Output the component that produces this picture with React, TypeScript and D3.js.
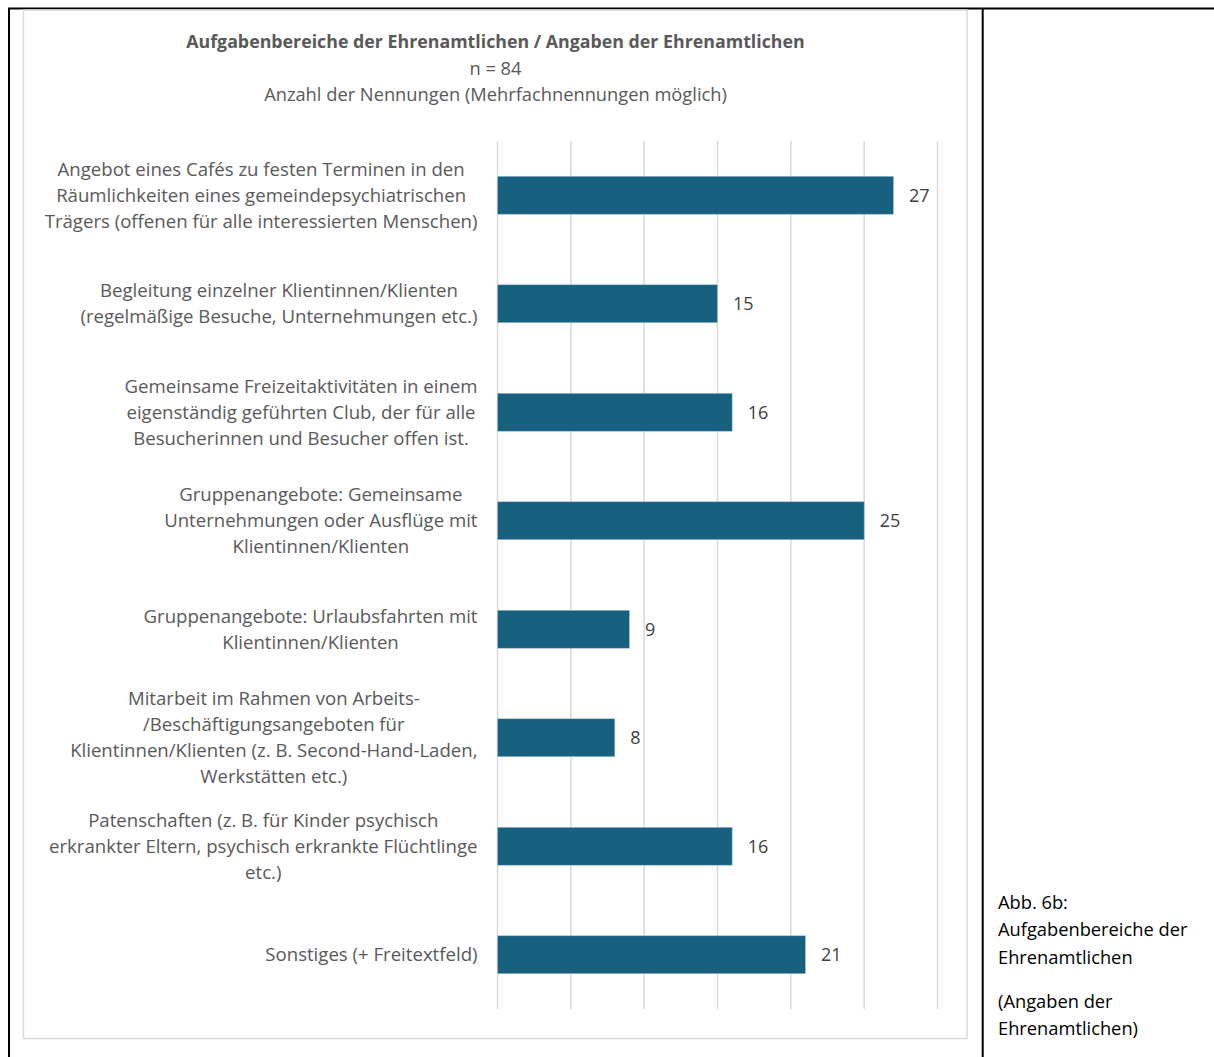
import React, { useEffect, useRef } from "react";
import * as d3 from "d3";

const categories: string[] = [
  "Angebot eines Cafés zu festen Terminen in den\nRäumlichkeiten eines gemeindepsychiatrischen\nTrägers (offenen für alle interessierten Menschen)",
  "Begleitung einzelner Klientinnen/Klienten\n(regelmäßige Besuche, Unternehmungen etc.)",
  "Gemeinsame Freizeitaktivitäten in einem\neigenständig geführten Club, der für alle\nBesucherinnen und Besucher offen ist.",
  "Gruppenangebote: Gemeinsame\nUnternehmungen oder Ausflüge mit\nKlientinnen/Klienten",
  "Gruppenangebote: Urlaubsfahrten mit\nKlientinnen/Klienten",
  "Mitarbeit im Rahmen von Arbeits-\n/Beschäftigungsangeboten für\nKlientinnen/Klienten (z. B. Second-Hand-Laden,\nWerkstätten etc.)",
  "Patenschaften (z. B. für Kinder psychisch\nerkrankter Eltern, psychisch erkrankte Flüchtlinge\netc.)",
  "Sonstiges (+ Freitextfeld)",
];
const values: number[] = [27, 15, 16, 25, 9, 8, 16, 21];
const xTicks: number[] = [0, 5, 10, 15, 20, 25, 30];
const titleLines: string[] = [
  "Aufgabenbereiche der Ehrenamtlichen / Angaben der Ehrenamtlichen",
  "n = 84",
  "Anzahl der Nennungen (Mehrfachnennungen möglich)",
];
const captionLines: string[] = [
  "Abb. 6b:",
  "Aufgabenbereiche der",
  "Ehrenamtlichen",
  "",
  "(Angaben der",
  "Ehrenamtlichen)",
];

const FONT = "'Open Sans', 'Noto Sans', sans-serif";

export default function App() {
  const ref = useRef<SVGSVGElement | null>(null);

  useEffect(() => {
    const svg = d3.select(ref.current);
    svg.selectAll("*").remove();

    // outer table borders
    svg.append("line").attr("x1", 8).attr("x2", 1214).attr("y1", 8.5).attr("y2", 8.5)
      .attr("stroke", "#000").attr("stroke-width", 1.8);
    svg.append("line").attr("x1", 9).attr("x2", 9).attr("y1", 8).attr("y2", 1057)
      .attr("stroke", "#000").attr("stroke-width", 2);
    svg.append("line").attr("x1", 982.7).attr("x2", 982.7).attr("y1", 8).attr("y2", 1057)
      .attr("stroke", "#000").attr("stroke-width", 2);

    // chart area border
    svg.append("rect").attr("x", 23.5).attr("y", 10).attr("width", 943.5).attr("height", 1028.5)
      .attr("fill", "#fff").attr("stroke", "#d9d9d9").attr("stroke-width", 1.5);

    const x = d3.scaleLinear().domain([0, 30]).range([497.5, 937.5]);
    const y = d3.scaleBand<string>().domain(categories).range([141, 1009])
      .paddingInner(0.65).paddingOuter(0.325);

    // gridlines
    svg.append("g").selectAll("line").data(xTicks).join("line")
      .attr("x1", (d) => x(d)).attr("x2", (d) => x(d))
      .attr("y1", 141).attr("y2", 1009)
      .attr("stroke", "#d9d9d9").attr("stroke-width", 1.5);

    // bars
    svg.append("g").selectAll("rect").data(values).join("rect")
      .attr("x", x(0))
      .attr("y", (_d, i) => y(categories[i]) as number)
      .attr("width", (d) => x(d) - x(0))
      .attr("height", y.bandwidth())
      .attr("fill", "#17607f")
      .attr("stroke", "#a9c4d2").attr("stroke-width", 0.6);

    // value labels
    svg.append("g").selectAll("text").data(values).join("text")
      .attr("x", (d) => x(d) + 15.5)
      .attr("y", (_d, i) => (y(categories[i]) as number) + y.bandwidth() / 2)
      .attr("dy", "0.35em")
      .attr("font-family", FONT).attr("font-size", 18).attr("fill", "#404040")
      .text((d) => String(d));

    // category labels
    const labelRight = 477.5;
    const lineH = 26;
    categories.forEach((cat, i) => {
      const lines = cat.split("\n");
      const cy = (y(cat) as number) + y.bandwidth() / 2;
      const g = svg.append("g");
      const texts = lines.map((ln, j) =>
        g.append("text")
          .attr("y", cy + (j - (lines.length - 1) / 2) * lineH)
          .attr("dy", "0.35em")
          .attr("font-family", FONT).attr("font-size", 18.6).attr("fill", "#595959")
          .attr("text-anchor", "middle")
          .text(ln)
      );
      const maxW = d3.max(texts, (t) => (t.node() as SVGTextElement).getComputedTextLength()) || 0;
      texts.forEach((t) => t.attr("x", labelRight - maxW / 2));
    });

    // titles
    const titleY = [42, 69, 95];
    titleLines.forEach((t, i) => {
      svg.append("text").attr("x", 495.5).attr("y", titleY[i]).attr("dy", "0.35em")
        .attr("text-anchor", "middle")
        .attr("font-family", FONT).attr("font-size", i === 0 ? 17.8 : 18.3)
        .attr("font-weight", i === 0 ? 700 : 400)
        .attr("fill", "#595959").text(t);
    });

    // caption
    const capY = [903, 930, 958, 980, 1002, 1029];
    captionLines.forEach((t, i) => {
      if (!t) return;
      svg.append("text").attr("x", 998).attr("y", capY[i]).attr("dy", "0.35em")
        .attr("font-family", FONT).attr("font-size", 18.3).attr("fill", "#000").text(t);
    });
  }, []);

  return (
    <svg
      ref={ref}
      width={1214}
      height={1057}
      style={{ position: "absolute", left: 0, top: 0, background: "#fff" }}
    />
  );
}
